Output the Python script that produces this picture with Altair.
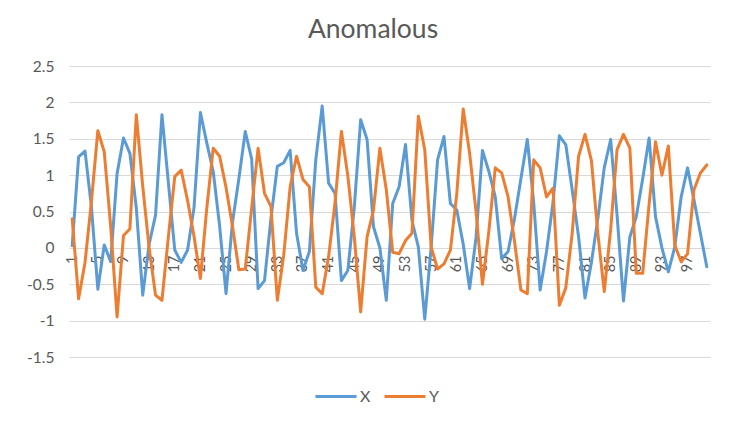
import altair as alt
import pandas as pd

x_vals = [0.03, 1.25, 1.33, 0.56, -0.57, 0.04, -0.19, 1.02, 1.51, 1.30,
          0.55, -0.65, 0.05, 0.45, 1.83, 0.9, -0.03, -0.2, -0.03, 0.55,
          1.86, 1.44, 1.05, 0.3, -0.63, 0.35, 0.95, 1.6, 1.22, -0.56,
          -0.45, 0.4, 1.12, 1.17, 1.34, 0.2, -0.31, -0.05, 1.21, 1.95,
          0.89, 0.75, -0.45, -0.31, 0.55, 1.76, 1.49, 0.29, 0.0, -0.72,
          0.61, 0.84, 1.42, 0.38, 0.01, -0.98, 0.01, 1.21, 1.53, 0.61,
          0.52, 0.05, -0.56, 0.14, 1.34, 1.05, 0.7, -0.15, -0.05, 0.4,
          0.95, 1.49, 0.62, -0.58, -0.05, 0.62, 1.54, 1.42, 0.8, 0.15,
          -0.69, -0.2, 0.4, 1.1, 1.49, 0.45, -0.73, 0.15, 0.43, 0.95,
          1.51, 0.43, 0.0, -0.33, 0.01, 0.7, 1.1, 0.66, 0.2, -0.26]

y_vals = [0.4, -0.7, -0.2, 0.64, 1.61, 1.32, 0.3, -0.95, 0.17, 0.26,
          1.83, 0.85, 0.0, -0.65, -0.72, 0.15, 0.98, 1.07, 0.65, 0.16,
          -0.42, 0.55, 1.37, 1.26, 0.83, 0.3, -0.3, -0.29, 0.55, 1.37,
          0.75, 0.57, -0.72, -0.1, 0.84, 1.26, 0.94, 0.84, -0.54, -0.63,
          -0.12, 0.62, 1.6, 0.99, 0.16, -0.88, 0.15, 0.52, 1.37, 0.8,
          -0.06, -0.08, 0.1, 0.2, 1.81, 1.35, 0.01, -0.29, -0.22, -0.03,
          0.75, 1.91, 1.3, 0.5, -0.5, 0.23, 1.1, 1.03, 0.7, 0.09,
          -0.58, -0.63, 1.21, 1.1, 0.7, 0.82, -0.79, -0.55, 0.2, 1.26,
          1.56, 1.2, 0.2, -0.6, 0.25, 1.35, 1.56, 1.37, -0.35, -0.35,
          0.6, 1.46, 1.0, 1.4, 0.04, -0.19, -0.08, 0.8, 1.03, 1.14]

categories = list(range(1, 101))
x_tick_labels = list(range(1, 101, 4))
y_ticks = [-1.5, -1, -0.5, 0, 0.5, 1, 1.5, 2, 2.5]
series_names = ["X", "Y"]
series_colors = ["#5B9BD5", "#ED7D31"]

rows = []
for name, vals in zip(series_names, [x_vals, y_vals]):
    for c, v in zip(categories, vals):
        rows.append({"i": c, "value": v, "series": name})
df = pd.DataFrame(rows)

W, H = 641, 291

chart = alt.Chart(df).mark_line(strokeWidth=3, strokeJoin="round", strokeCap="round").encode(
    x=alt.X("i:O", title=None,
            axis=alt.Axis(values=x_tick_labels, labelAngle=270, ticks=False, domain=False,
                          grid=False, offset=-109, labelPadding=7,
                          labelFont="Lato", labelFontSize=14.5, labelColor="#595959")),
    y=alt.Y("value:Q", title=None,
            scale=alt.Scale(domain=[-1.5, 2.5], nice=False, zero=False),
            axis=alt.Axis(values=y_ticks, labelExpr="'' + datum.value", ticks=False,
                          domain=False, gridColor="#d9d9d9", gridWidth=1, labelPadding=15,
                          labelFont="Lato", labelFontSize=15.5, labelColor="#595959")),
    color=alt.Color("series:N", title=None,
                    scale=alt.Scale(domain=series_names, range=series_colors),
                    legend=alt.Legend(orient="none", legendX=245, legendY=308.5,
                                      direction="horizontal", symbolType="stroke",
                                      symbolSize=1681, symbolStrokeWidth=3,
                                      labelFont="Lato", labelFontSize=16,
                                      labelColor="#595959", labelOffset=2,
                                      columnPadding=7, padding=0)),
).properties(
    width=W, height=H,
    title=alt.TitleParams("Anomalous", font="Lato", fontSize=26.5, fontWeight="normal",
                          color="#595959", anchor="middle", frame="group", dx=-16.5,
                          dy=27, baseline="alphabetic", offset=22),
    autosize="none",
    padding={"left": 61, "top": 58, "right": 28, "bottom": 68},
).configure_view(stroke=None)

chart.save("out.html", embed_options={"renderer": "svg", "actions": False})
